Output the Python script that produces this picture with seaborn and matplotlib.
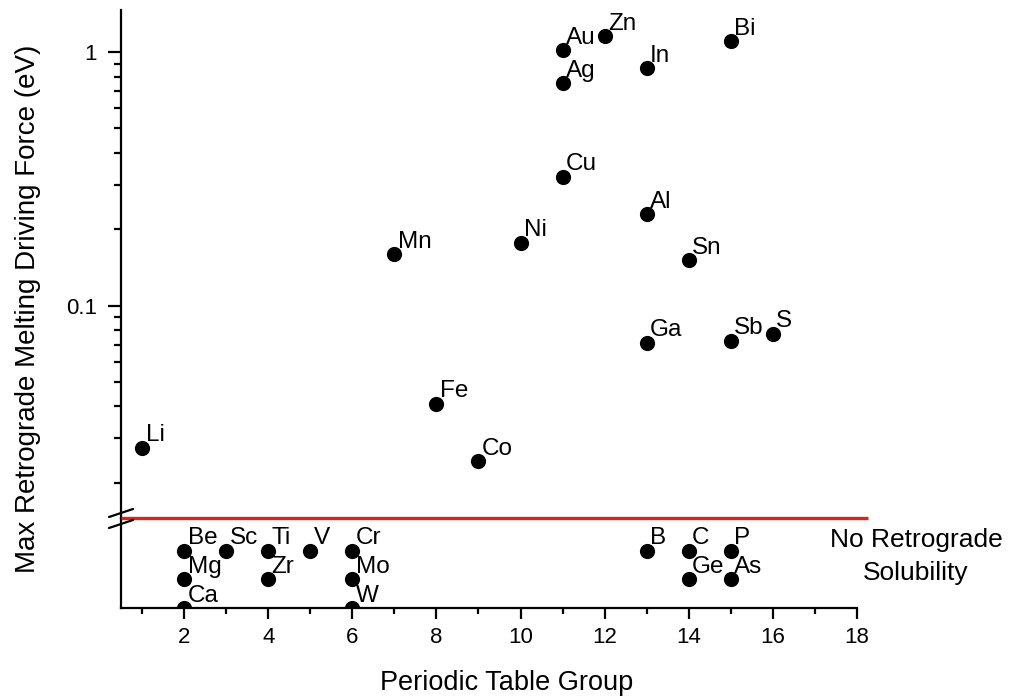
import matplotlib
matplotlib.use("Agg")
import matplotlib.pyplot as plt
import matplotlib.ticker as mticker
import numpy as np
import pandas as pd
import seaborn as sns

# Elements with a retrograde melting driving force (eV)
upper_elements = ["Li", "Mn", "Fe", "Co", "Ni", "Cu", "Ag", "Au", "Zn",
                  "In", "Al", "Ga", "Sn", "Bi", "Sb", "S"]
upper_groups = [1, 7, 8, 9, 10, 11, 11, 11, 12, 13, 13, 13, 14, 15, 15, 16]
upper_force = [0.0275, 0.160, 0.041, 0.0244, 0.177, 0.323, 0.754, 1.02, 1.157,
               0.864, 0.229, 0.0714, 0.151, 1.105, 0.0727, 0.0775]

# Elements without retrograde solubility, stacked in rows per group
lower_elements = ["Be", "Mg", "Ca", "Sc", "Ti", "Zr", "V", "Cr", "Mo", "W",
                  "B", "C", "Ge", "P", "As"]
lower_groups = [2, 2, 2, 3, 4, 4, 5, 6, 6, 6, 13, 14, 14, 15, 15]
lower_rows = [2, 1, 0, 2, 2, 1, 2, 2, 1, 0, 2, 2, 1, 2, 1]

x_ticks = [2, 4, 6, 8, 10, 12, 14, 16, 18]
y_ticks = [0.1, 1]
y_ticklabels = ["0.1", "1"]

sns.set_style("ticks")
plt.rcParams["font.family"] = ["Liberation Sans", "DejaVu Sans"]
plt.rcParams.update({"text.color": "black", "axes.labelcolor": "black",
                     "xtick.color": "black", "ytick.color": "black",
                     "axes.edgecolor": "black"})

upper_df = pd.DataFrame({"group": upper_groups, "force": upper_force,
                         "element": upper_elements})
lower_df = pd.DataFrame({"group": lower_groups, "row": lower_rows,
                         "element": lower_elements})

W, H = 1011, 698
fig = plt.figure(figsize=(W / 100, H / 100), dpi=100)
left, right = 121 / W, 857 / W
y_top, y_break, y_bottom = 10, 518, 608
ax_top = fig.add_axes([left, 1 - y_break / H, right - left, (y_break - y_top) / H])
ax_bot = fig.add_axes([left, 1 - y_bottom / H, right - left, (y_bottom - y_break) / H])

marker_kw = dict(color="black", s=120, edgecolor="black", linewidth=0, legend=False)
sns.scatterplot(data=upper_df, x="group", y="force", ax=ax_top, **marker_kw)
sns.scatterplot(data=lower_df, x="group", y="row", ax=ax_bot, **marker_kw)

label_kw = dict(textcoords="offset points", xytext=(2.5, 4.5), ha="left",
                va="baseline", fontsize=17.5, color="black")
for _, r in upper_df.iterrows():
    ax_top.annotate(r["element"], (r["group"], r["force"]), **label_kw)
for _, r in lower_df.iterrows():
    ax_bot.annotate(r["element"], (r["group"], r["row"]), **label_kw)

xlim = (0.5, 18)
for ax in (ax_top, ax_bot):
    ax.set_xlim(*xlim)
    ax.set_xlabel("")
    ax.set_ylabel("")
    ax.spines["right"].set_visible(False)
    ax.spines["top"].set_visible(False)
    ax.spines["left"].set_linewidth(1.6)
    ax.spines["bottom"].set_linewidth(1.6)
    ax.set_facecolor("white")

# Upper panel: log axis, no bottom spine
ax_top.set_yscale("log")
ax_top.set_ylim(0.01452, 1.466)
ax_top.spines["bottom"].set_visible(False)
ax_top.tick_params(axis="x", which="both", bottom=False, labelbottom=False)
ax_top.yaxis.set_major_locator(mticker.FixedLocator(y_ticks))
ax_top.yaxis.set_major_formatter(mticker.FixedFormatter(y_ticklabels))
ax_top.yaxis.set_minor_locator(mticker.LogLocator(base=10, subs=np.arange(2, 10)))
ax_top.yaxis.set_minor_formatter(mticker.NullFormatter())
ax_top.tick_params(axis="y", which="major", direction="out", length=9.5,
                   width=1.6, labelsize=16, pad=8)
ax_top.tick_params(axis="y", which="minor", direction="out", length=5, width=1.6)

# Lower panel: rows of elements without retrograde solubility
ax_bot.set_ylim(0, 3.14)
ax_bot.set_yticks([])
ax_bot.xaxis.set_major_locator(mticker.FixedLocator(x_ticks))
ax_bot.xaxis.set_minor_locator(mticker.MultipleLocator(1))
ax_bot.tick_params(axis="x", which="major", direction="out", length=8,
                   width=1.6, labelsize=16, pad=6)
ax_bot.tick_params(axis="x", which="minor", direction="out", length=4.5, width=1.6)

# Red separator line at the axis break
ax_bot.plot([xlim[0], 18.26], [3.14, 3.14], color="#d8261c", lw=2.4,
            clip_on=False, solid_capstyle="butt", zorder=5)

# Break marks on the y axis
for dy in (-5, 6):
    yc = y_break + dy
    fig.add_artist(plt.Line2D([109 / W, 133 / W],
                              [1 - (yc + 4) / H, 1 - (yc - 4) / H],
                              color="black", lw=1.6))

fig.text(916 / W, 1 - 540 / H, "No Retrograde", ha="center", va="center",
         fontsize=19)
fig.text(916 / W, 1 - 573 / H, "Solubility", ha="center", va="center",
         fontsize=19)

fig.text(28 / W, 1 - 309 / H, "Max Retrograde Melting Driving Force (eV)",
         rotation=90, ha="center", va="center", fontsize=20)
fig.text(507 / W, 1 - 683 / H, "Periodic Table Group",
         ha="center", va="center", fontsize=19.5)

fig.savefig("out.png", dpi=100, facecolor="white")
